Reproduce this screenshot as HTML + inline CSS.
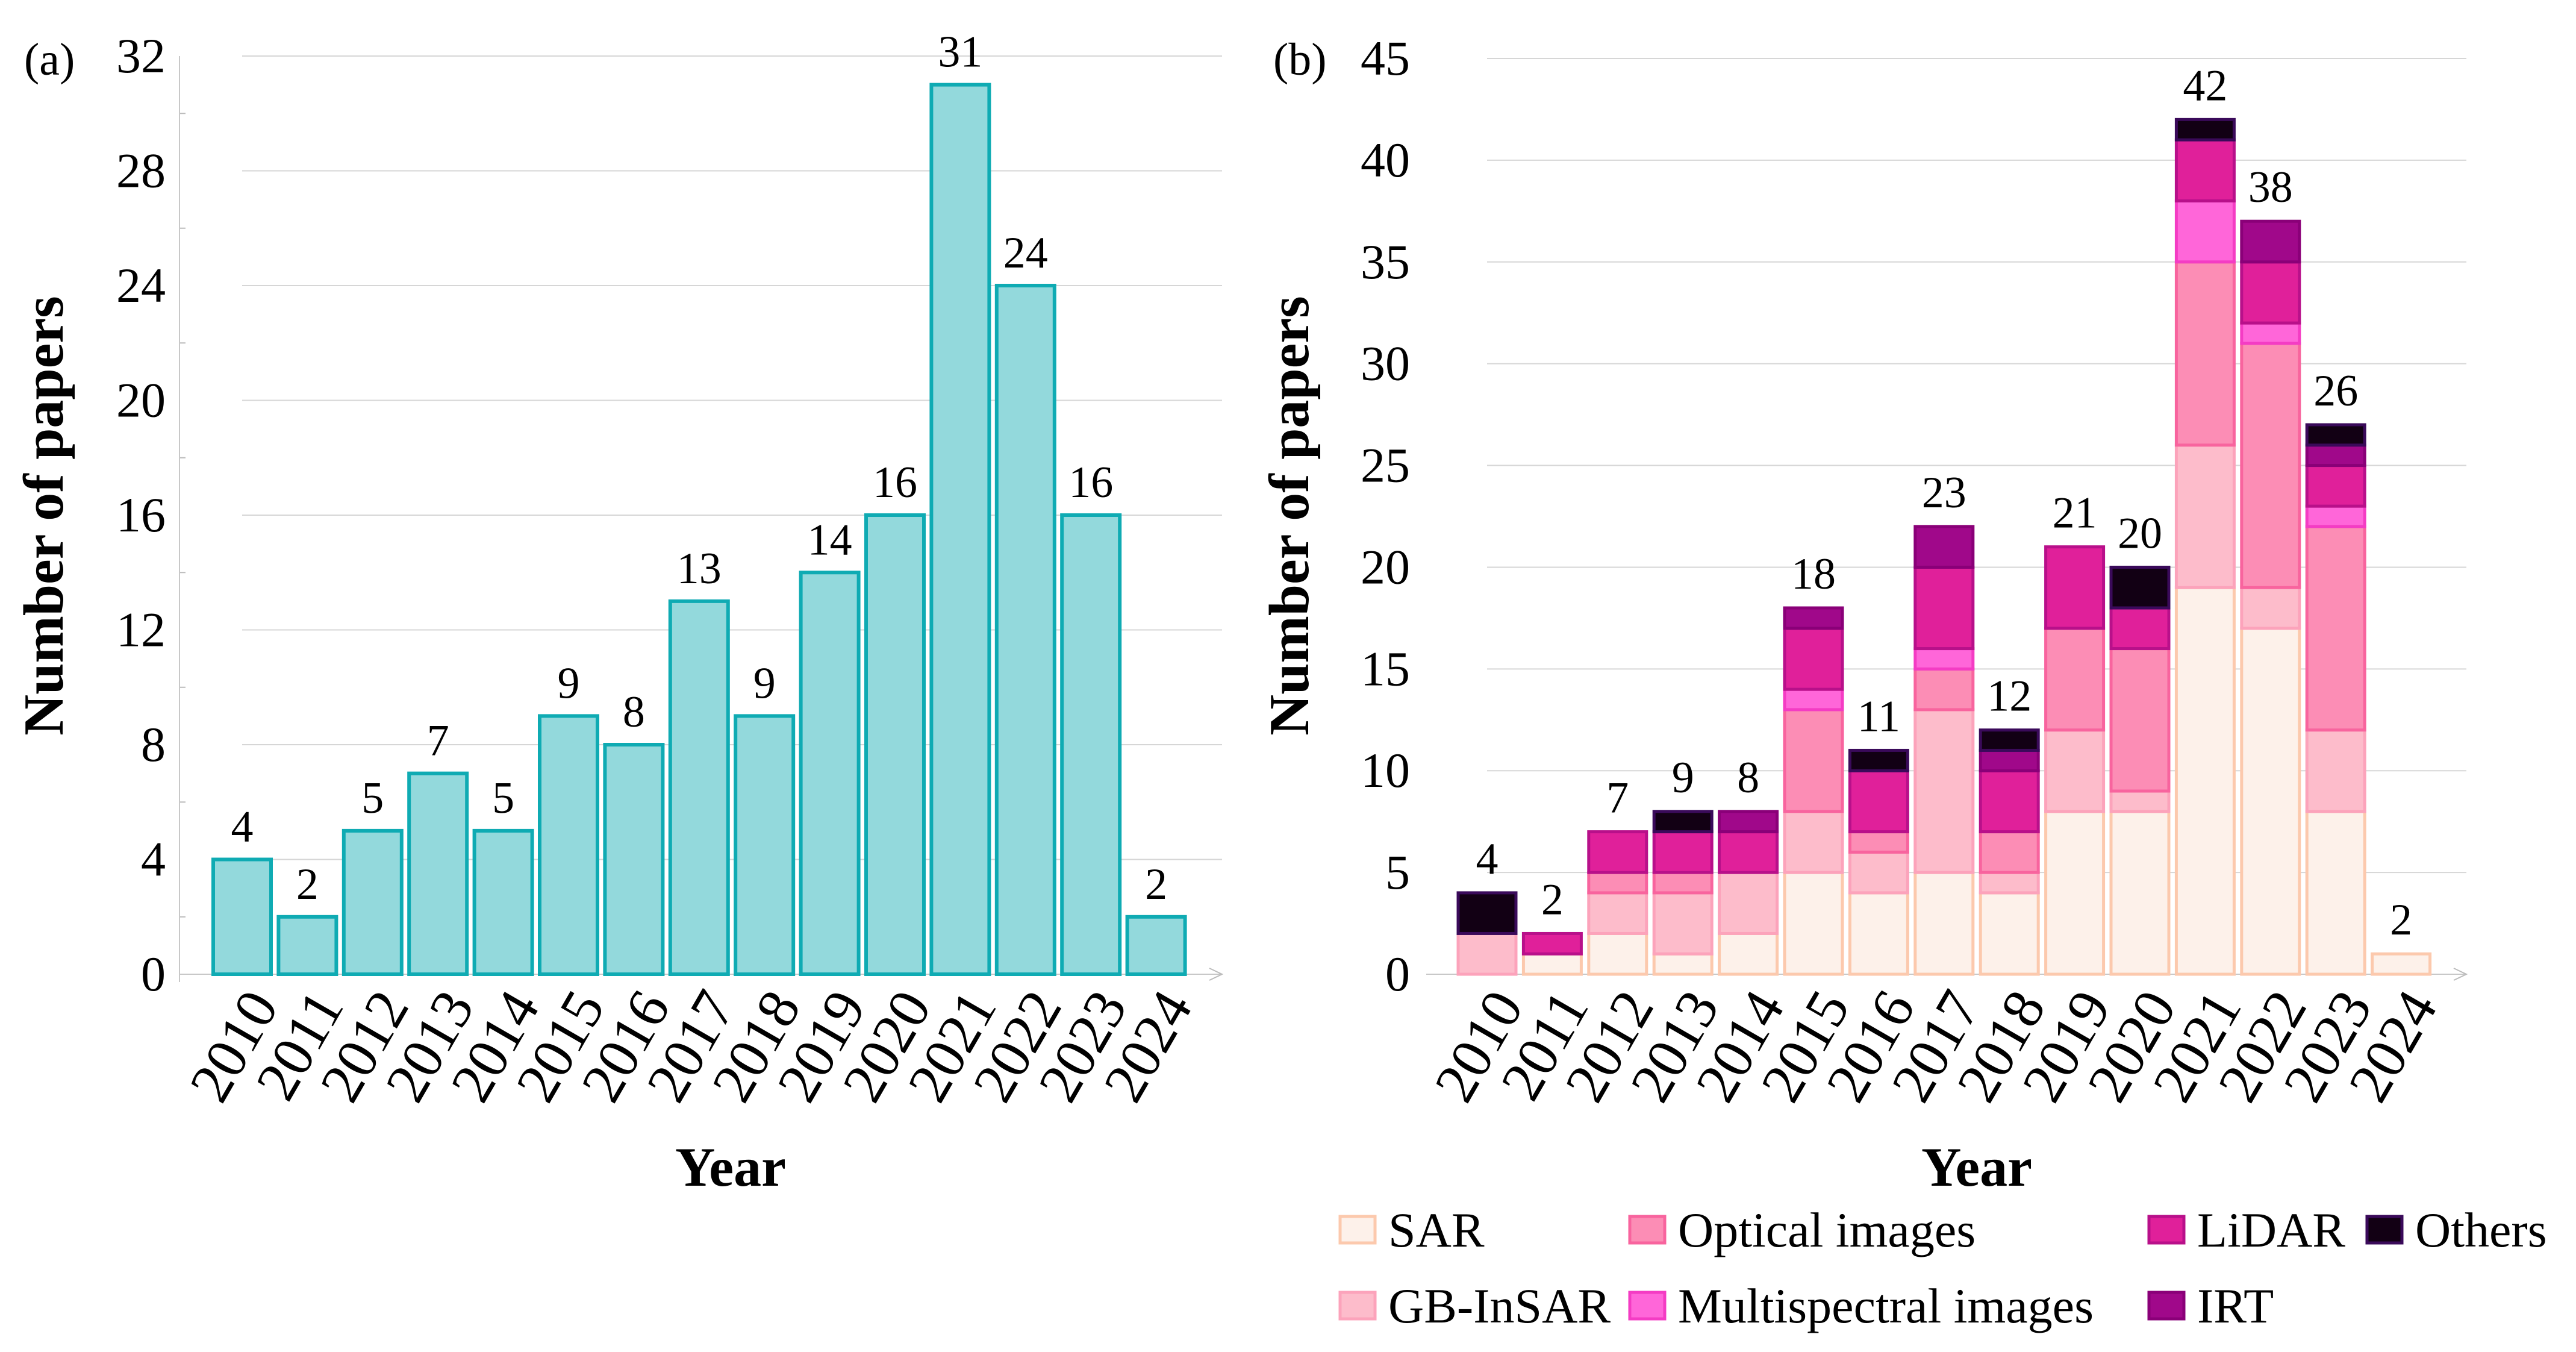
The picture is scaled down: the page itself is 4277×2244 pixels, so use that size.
<!DOCTYPE html>
<html><head><meta charset="utf-8"><style>
html,body{margin:0;padding:0;background:#fff}
svg{display:block;font-family:"Liberation Serif",serif}
</style></head><body>
<svg id="chart" width="4277" height="2244" viewBox="0 0 4277 2244" xmlns="http://www.w3.org/2000/svg"></svg>
<script>
const years = ["2010","2011","2012","2013","2014","2015","2016","2017","2018","2019","2020","2021","2022","2023","2024"];
const totalsA = [4,2,5,7,5,9,8,13,9,14,16,31,24,16,2];
const ticksA = [0,4,8,12,16,20,24,28,32];
const seriesNames = ["SAR","GB-InSAR","Optical images","Multispectral images","LiDAR","IRT","Others"];
const sar   = [0,1,2,1,2,5,4,5,4,8,8,19,17,8,1];
const gb    = [2,0,2,3,3,3,2,8,1,4,1,7,2,4,0];
const opt   = [0,0,1,1,0,5,1,2,2,5,7,9,12,10,0];
const multi = [0,0,0,0,0,1,0,1,0,0,0,3,1,1,0];
const lidar = [0,1,2,2,2,3,3,4,3,4,2,3,3,2,0];
const irt   = [0,0,0,0,1,1,0,2,1,0,0,0,2,1,0];
const others= [2,0,0,1,0,0,1,0,1,0,2,1,0,1,0];
const labelsB = [4,2,7,9,8,18,11,23,12,21,20,42,38,26,2];
const ticksB = [0,5,10,15,20,25,30,35,40,45];

const fills = ["#fdf1ea","#fdbccb","#fc8db5","#ff66d9","#e0209a","#a0088a","#120014"];
const strokes = ["#fcc9ad","#fca3bb","#f8649e","#f43cc4","#b8108a","#8a0078","#3a0a5a"];

const svg = document.getElementById('chart');
const NS = "http://www.w3.org/2000/svg";
function mk(tag, attrs, parent){const e=document.createElementNS(NS,tag);for(const k in attrs)e.setAttribute(k,attrs[k]);(parent||svg).appendChild(e);return e;}
function txt(s, attrs, parent){const e=mk('text',attrs,parent);e.textContent=s;return e;}

const base = 1617;
// ---------- Chart A ----------
const gA = mk('g',{});


const yA = v => base - v*(base-93)/32;
const xA = i => 402 + i*108.4;
ticksA.forEach(t=>{
  if(t>0){const l=mk('line',{x1:402,x2:2029,y1:yA(t),y2:yA(t),stroke:"#d6d6d6","stroke-width":2},gA);
  
  }
  const tl=txt(String(t),{x:275,y:yA(t)+27,"text-anchor":"end","font-size":82},gA);
  
  
  if(t<32){const m=mk('line',{x1:298,x2:308,y1:yA(t+2),y2:yA(t+2),stroke:"#bbb","stroke-width":2},gA);
  
  }
});
mk('line',{x1:298,x2:298,y1:93,y2:1630,stroke:"#c8c8c8","stroke-width":2},gA);
mk('line',{x1:298,x2:2029,y1:base,y2:base,stroke:"#c8c8c8","stroke-width":2},gA);
mk('path',{d:"M2008 1607 L2029 1617 L2008 1627",fill:"none",stroke:"#bbb","stroke-width":2},gA);
totalsA.forEach((v,i)=>{
  const r=mk('rect',{x:xA(i)-48,y:yA(v),width:96,height:base-yA(v),fill:"#93d9dc",stroke:"#0fabb3","stroke-width":6},gA);
  
  
  const l=txt(String(v),{x:xA(i),y:yA(v)-30,"text-anchor":"middle","font-size":74},gA);
  
  
  const x=txt(years[i],{x:0,y:0,"text-anchor":"end","font-size":96,transform:`translate(${xA(i)+62},${base+52}) rotate(-60)`},gA);
  
  
});
const ta=txt("(a)",{x:40,y:124,"font-size":76},gA);


const yta=txt("Number of papers",{x:0,y:0,"text-anchor":"middle","font-size":94,"font-weight":"bold",transform:"translate(104,856) rotate(-90)"},gA);


const xta=txt("Year",{x:1213,y:1968,"text-anchor":"middle","font-size":92,"font-weight":"bold"},gA);



// ---------- Chart B ----------
const gB = mk('g',{});


const yB = v => base - v*(base-97)/45;
const xB = i => 2469 + i*108.4;
ticksB.forEach(t=>{
  if(t>0){const l=mk('line',{x1:2469,x2:4095,y1:yB(t),y2:yB(t),stroke:"#d6d6d6","stroke-width":2},gB);
  
  }
  const tl=txt(String(t),{x:2341,y:yB(t)+27,"text-anchor":"end","font-size":82},gB);
  
  
});
mk('line',{x1:2368,x2:4095,y1:base,y2:base,stroke:"#c8c8c8","stroke-width":2},gB);
mk('path',{d:"M4074 1607 L4095 1617 L4074 1627",fill:"none",stroke:"#bbb","stroke-width":2},gB);
const stacks=[sar,gb,opt,multi,lidar,irt,others];
years.forEach((yr,i)=>{
  let cum=0;
  stacks.forEach((s,k)=>{
    const v=s[i]; if(!v) return;
    const r=mk('rect',{x:xB(i)-48,y:yB(cum+v),width:96,height:yB(cum)-yB(cum+v),fill:fills[k],stroke:strokes[k],"stroke-width":5},gB);
    
    
    cum+=v;
  });
  const l=txt(String(labelsB[i]),{x:xB(i),y:yB(cum)-32,"text-anchor":"middle","font-size":74},gB);
  
  
  const x=txt(yr,{x:0,y:0,"text-anchor":"end","font-size":96,transform:`translate(${xB(i)+62},${base+52}) rotate(-60)`},gB);
  
  
});
const tb=txt("(b)",{x:2114,y:124,"font-size":76},gB);


const ytb=txt("Number of papers",{x:0,y:0,"text-anchor":"middle","font-size":94,"font-weight":"bold",transform:"translate(2172,856) rotate(-90)"},gB);


const xtb=txt("Year",{x:3282,y:1968,"text-anchor":"middle","font-size":92,"font-weight":"bold"},gB);



// ---------- Legend ----------
const legendPos=[[2225,2041],[2225,2167],[2706,2041],[2706,2167],[3568,2041],[3568,2167],[3930,2041]];
const gL=mk('g',{});


seriesNames.forEach((n,k)=>{
  const [x,y]=legendPos[k];
  const sw=mk('rect',{x:x,y:y-22,width:58,height:44,fill:fills[k],stroke:strokes[k],"stroke-width":5},gL);
  
  
  const t=txt(n,{x:x+80,y:y+28,"font-size":82},gL);
  
  
});
</script>
</body></html>
